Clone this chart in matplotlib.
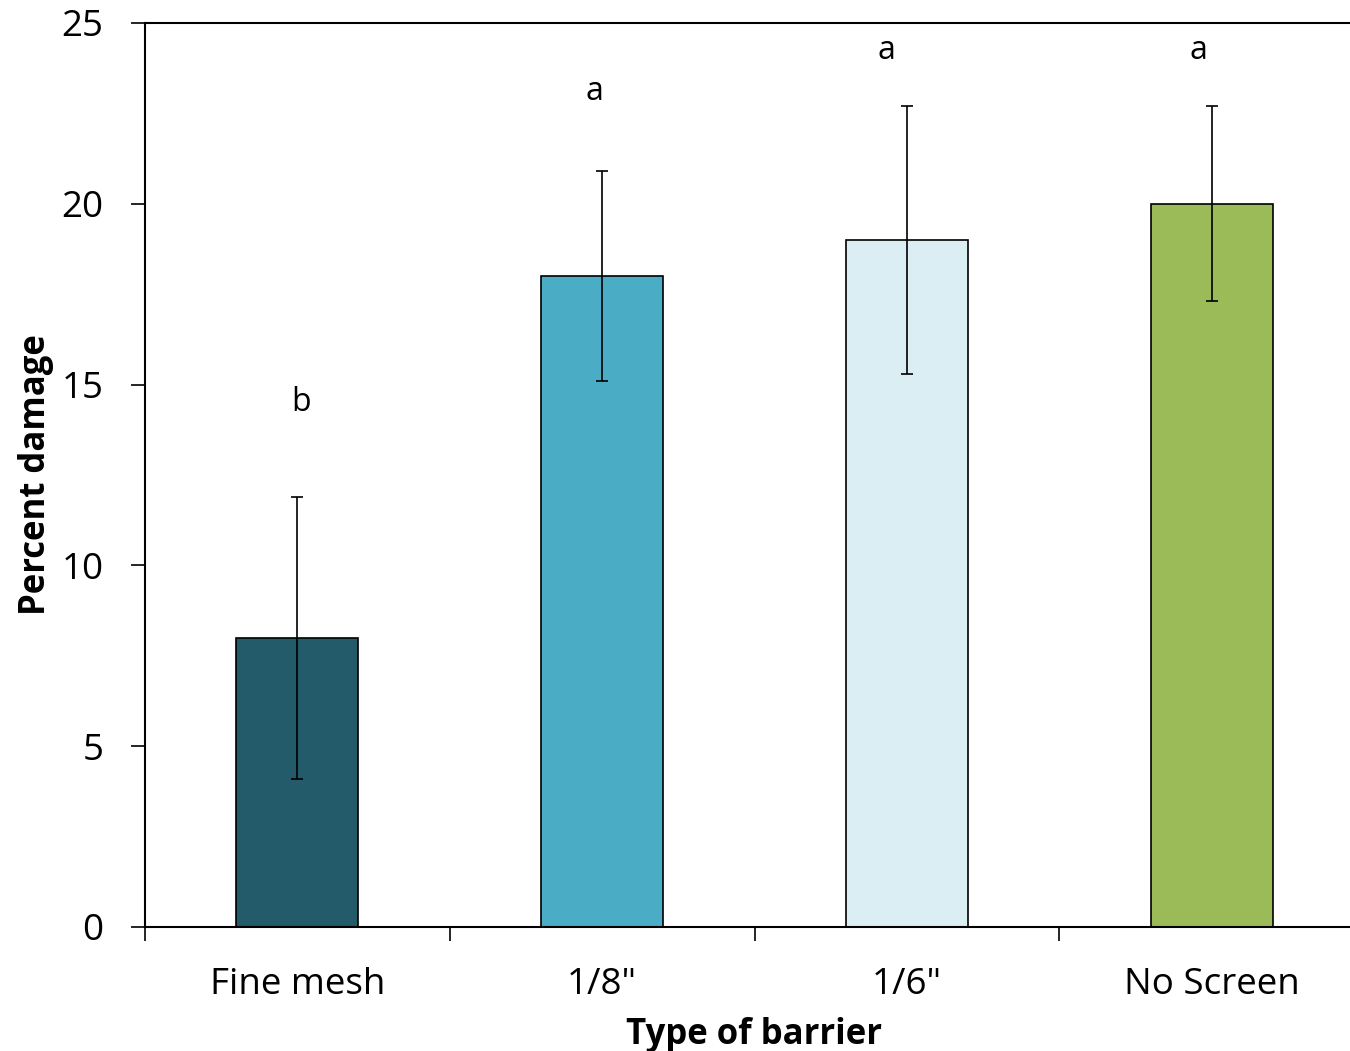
import matplotlib
matplotlib.use("Agg")
import matplotlib.pyplot as plt

categories = ["Fine mesh", '1/8"', '1/6"', "No Screen"]
damage = [8.0, 18.0, 19.0, 20.0]
errors = [3.9, 2.9, 3.7, 2.7]
letters = ["b", "a", "a", "a"]
letter_y = [14.5, 23.1, 24.25, 24.25]
letter_dx = [0.013, -0.026, -0.066, -0.043]
colors = ["#235B6A", "#4BACC6", "#DBEEF3", "#9BBB59"]

plt.rcParams['font.family'] = ['Open Sans', 'DejaVu Sans']

fig = plt.figure(figsize=(13.5, 10.51), dpi=100)
ax = fig.add_axes([145/1350, 1-927/1051, (1364-145)/1350, (927-23)/1051])

x = list(range(len(categories)))
ax.bar(x, damage, width=0.4, color=colors, edgecolor="black", linewidth=1.2, zorder=2)
ax.errorbar(x, damage, yerr=errors, fmt="none", ecolor="black", elinewidth=1.2,
            capsize=4.5, capthick=1.2, zorder=3)
for xi, lt, ly, dx in zip(x, letters, letter_y, letter_dx):
    ax.text(xi + dx, ly, lt, ha="center", va="center", fontsize=23)

ax.set_xlim(-0.5, len(categories) - 0.5)
ax.set_ylim(0, 25)
ax.set_yticks([0, 5, 10, 15, 20, 25])
ax.set_xticks([i - 0.5 for i in range(len(categories))] + [len(categories) - 0.5])
ax.set_xticklabels([])
ax.set_xticks(x, minor=True)
ax.set_xticklabels(categories, minor=True)
ax.tick_params(axis="x", which="minor", length=0, pad=29, labelsize=26.5)
ax.tick_params(axis="x", which="major", length=10, width=1.2, direction="out")
ax.tick_params(axis="y", length=10, width=1.2, direction="out", pad=20, labelsize=26.5)

ax.spines["right"].set_visible(False)
for s in ["left", "top", "bottom"]:
    ax.spines[s].set_linewidth(1.5)

ax.set_ylabel("Percent damage", fontsize=25, fontweight="bold", labelpad=5)
ax.set_xlabel("Type of barrier", fontsize=25, fontweight="bold", labelpad=10)

fig.savefig("out.png", dpi=100)
